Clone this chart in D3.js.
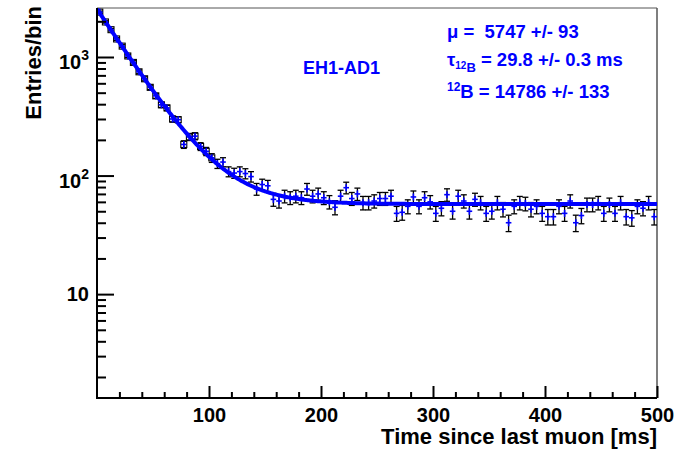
<!DOCTYPE html>
<html>
<head>
<meta charset="utf-8">
<script src="https://cdn.jsdelivr.net/npm/d3@7"></script>
<style>
  html, body { margin: 0; padding: 0; background: #fff; }
  svg { display: block; }
  text { font-family: "Liberation Sans", Arial, Helvetica, sans-serif; font-weight: bold; }
</style>
</head>
<body>
<svg id="chart" width="691" height="449"></svg>
<script>
// ---------------- data ----------------
const binWidth = 5;            // ms
const xRange = [0, 500];       // ms
const yRange = [1.33, 2590];   // entries/bin (log)
// entries per 5 ms bin
const counts = [
  2390, 1975, 1700, 1420, 1235, 1020, 900, 750, 655, 555,
  470, 395, 372, 300, 296, 183, 212, 215, 176, 160,
  141, 126, 130, 108, 105, 108, 104, 98, 77, 84,
  82, 63, 61, 67, 65, 67, 65, 77, 67, 70,
  65, 60, 54, 67, 79, 64, 70, 59, 59, 61,
  64, 64, 67, 48, 49, 55, 66, 55, 65, 60,
  48, 53, 69, 50, 67, 61, 50, 63, 59, 48,
  50, 59, 52, 40, 55, 59, 58, 52, 55, 48,
  45, 45, 55, 48, 61, 40, 46, 57, 57, 59,
  48, 57, 48, 59, 45, 44, 55, 53, 59, 45
];
// fit parameters (from the stats box)
const fitMu = 5747, fitMuErr = 93;
const fitTau = 29.8, fitTauErr = 0.3;
const fitB = 14786, fitBErr = 133;
const xTicksMajor = [100, 200, 300, 400, 500];
const xTicksMinor = [20, 40, 60, 80, 120, 140, 160, 180, 220, 240, 260, 280, 320, 340, 360, 380, 420, 440, 460, 480];
const yTicksMajor = [10, 100, 1000];
const yTickLabels = [["10", ""], ["10", "2"], ["10", "3"]];
const yTicksMinor = [2,3,4,5,6,7,8,9, 20,30,40,50,60,70,80,90, 200,300,400,500,600,700,800,900, 2000];
const xTitle = "Time since last muon [ms]";
const yTitle = "Entries/bin";
const label = "EH1-AD1";

// ---------------- layout ----------------
const svg = d3.select("#chart");
const L = 97, R = 657, T = 8, B = 398;
const x = d3.scaleLinear().domain(xRange).range([L, R]);
const y = d3.scaleLog().domain(yRange).range([B, T]);
const blue = "#0000ff";

svg.append("rect").attr("width", 691).attr("height", 449).attr("fill", "#fff");

svg.append("clipPath").attr("id", "clip")
  .append("rect").attr("x", L).attr("y", T).attr("width", R - L).attr("height", B - T);

// frame (top/right thin grey)
svg.append("line").attr("x1", L).attr("x2", R).attr("y1", T).attr("y2", T)
  .attr("stroke", "#555").attr("stroke-width", 1);
svg.append("line").attr("x1", R).attr("x2", R).attr("y1", T).attr("y2", B)
  .attr("stroke", "#555").attr("stroke-width", 1.5);

// ---------------- data points ----------------
const nBins = counts.length;
const pts = counts.map((c, i) => ({ t: (i + 0.5) * binWidth, n: c, e: Math.sqrt(c) }));
const gPts = svg.append("g").attr("clip-path", "url(#clip)");
const capW = 3;
pts.forEach(p => {
  const cx = x(p.t), cy = y(p.n), yh = y(p.n + p.e), yl = y(p.n - p.e);
  const g = gPts.append("g");
  g.append("line").attr("x1", cx).attr("x2", cx).attr("y1", yh).attr("y2", yl)
    .attr("stroke", "#000").attr("stroke-width", 1.3);
  [yh, yl].forEach(yy => g.append("line").attr("x1", cx - capW).attr("x2", cx + capW)
    .attr("y1", yy).attr("y2", yy).attr("stroke", "#000").attr("stroke-width", 1.3));
  if (yl - yh < 9) {
    g.append("rect").attr("x", cx - 3).attr("y", cy - 3).attr("width", 6).attr("height", 6)
      .attr("fill", "none").attr("stroke", "#000").attr("stroke-width", 1.1);
  }
  g.append("line").attr("x1", x(p.t - binWidth / 2)).attr("x2", x(p.t + binWidth / 2))
    .attr("y1", cy).attr("y2", cy).attr("stroke", blue).attr("stroke-width", 1.6);
  g.append("line").attr("x1", cx).attr("x2", cx).attr("y1", cy - 3.5).attr("y2", cy + 3.5)
    .attr("stroke", blue).attr("stroke-width", 1.6);
});

// ---------------- fit curve ----------------
const fitF = t => fitMu / nBins + fitB * binWidth / fitTau * Math.exp(-t / fitTau);
const tGrid = d3.range(xRange[0], xRange[1] + 0.5, 1);
svg.append("path").attr("clip-path", "url(#clip)")
  .datum(tGrid)
  .attr("d", d3.line().x(t => x(t)).y(t => y(fitF(t))))
  .attr("fill", "none").attr("stroke", blue).attr("stroke-width", 4);

// ---------------- axes ----------------
const axX = svg.append("g").attr("transform", `translate(0,${B})`);
axX.call(d3.axisBottom(x).tickValues(xTicksMajor).tickSizeInner(-12).tickSizeOuter(0).tickFormat(d3.format("d")));
axX.append("g").call(d3.axisBottom(x).tickValues(xTicksMinor).tickSizeInner(-6).tickSizeOuter(0).tickFormat(""));
axX.selectAll(".domain").remove();
axX.selectAll("line").attr("stroke", "#000").attr("stroke-width", 2);
axX.selectAll("text").attr("fill", "#000").attr("font-size", 20).attr("dy", null).attr("y", 24)
  .style("font-family", "'Liberation Sans', Arial, sans-serif").style("font-weight", "bold");

const axY = svg.append("g").attr("transform", `translate(${L},0)`);
axY.call(d3.axisLeft(y).tickValues(yTicksMajor).tickSizeInner(-17).tickSizeOuter(0).tickFormat(""));
axY.append("g").call(d3.axisLeft(y).tickValues(yTicksMinor).tickSizeInner(-9).tickSizeOuter(0).tickFormat(""));
axY.selectAll(".domain").remove();
axY.selectAll("line").attr("stroke", "#000").attr("stroke-width", 2);

// axis lines
svg.append("line").attr("x1", L).attr("x2", L).attr("y1", T).attr("y2", B + 1)
  .attr("stroke", "#000").attr("stroke-width", 2);
svg.append("line").attr("x1", L - 1).attr("x2", R).attr("y1", B).attr("y2", B)
  .attr("stroke", "#000").attr("stroke-width", 2);

// y labels with superscripts
yTicksMajor.forEach((v, i) => {
  const [base, exp] = yTickLabels[i];
  const t = svg.append("text").attr("text-anchor", "end").attr("font-size", 20).attr("fill", "#000");
  if (exp) {
    t.attr("x", 89).attr("y", y(v) + 12);
    t.append("tspan").text(base);
    t.append("tspan").attr("font-size", 14).attr("dy", -9).text(exp);
  } else {
    t.attr("x", 89).attr("y", y(v) + 7).text(base);
  }
});

// titles
svg.append("text").attr("x", 657).attr("y", 444).attr("text-anchor", "end")
  .attr("font-size", 22).attr("fill", "#000").text(xTitle);
svg.append("text").attr("transform", "translate(41,6) rotate(-90)").attr("text-anchor", "end")
  .attr("font-size", 22).attr("fill", "#000").text(yTitle);

// label
svg.append("text").attr("x", 303).attr("y", 74).attr("font-size", 18).attr("fill", blue).text(label);

// stats
const st = svg.append("g").attr("fill", blue).attr("font-size", 18.5);
const l1 = st.append("text").attr("x", 447).attr("y", 38);
l1.append("tspan").text("\u03bc");
l1.append("tspan").attr("xml:space", "preserve").text(" =  " + fitMu + " +/- " + fitMuErr);
const l2 = st.append("text").attr("x", 447).attr("y", 66);
l2.append("tspan").text("\u03c4");
l2.append("tspan").attr("font-size", 10).attr("dy", 3).text("12");
l2.append("tspan").attr("font-size", 13).attr("dy", 3).text("B");
l2.append("tspan").attr("dy", -6).text(" =  " + fitTau.toFixed(1) + " +/- " + fitTauErr + " ms");
const l3 = st.append("text").attr("x", 447).attr("y", 98);
l3.append("tspan").attr("font-size", 12).attr("dy", -7).text("12");
l3.append("tspan").attr("dy", 7).text("B = " + " " + fitB + " +/- " + fitBErr);
</script>
</body>
</html>
